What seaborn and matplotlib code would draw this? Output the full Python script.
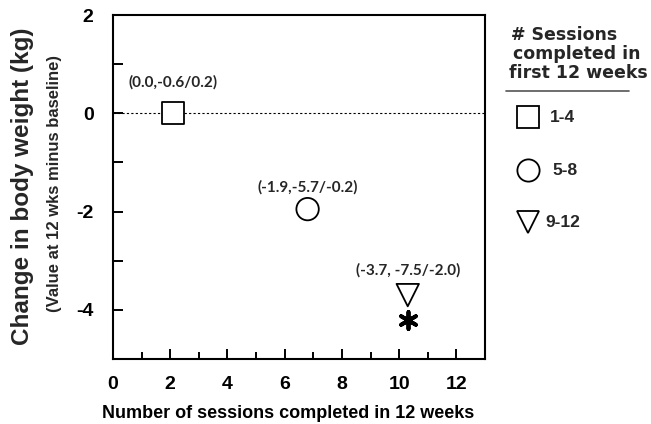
import matplotlib
matplotlib.use("Agg")
import matplotlib.pyplot as plt
import seaborn as sns
import pandas as pd
from matplotlib.lines import Line2D
from matplotlib.ticker import MultipleLocator

groups = ["1-4", "5-8", "9-12"]
x_vals = [2.1, 6.8, 10.3]
y_vals = [0.0, -1.95, -3.7]
point_labels = ["(0.0,-0.6/0.2)", "(-1.9,-5.7/-0.2)", "(-3.7, -7.5/-2.0)"]
star_x = [10.3]
star_y = [-4.2]
x_ticks = [0, 2, 4, 6, 8, 10, 12]
y_ticks = [2, 0, -2, -4]

df = pd.DataFrame({"x": x_vals, "y": y_vals, "group": groups})

sns.set_theme(style="white")
plt.rcParams["font.family"] = ["Liberation Sans", "DejaVu Sans"]
plt.rcParams["axes.unicode_minus"] = False

fig = plt.figure(figsize=(6.51, 4.24), dpi=100)
ax = fig.add_axes([0.1736, 0.1533, 0.745 - 0.1736, 0.9646 - 0.1533])

markers = {"1-4": "s", "5-8": "o", "9-12": "v"}
sns.scatterplot(data=df, x="x", y="y", style="group", markers=markers,
                s=260, facecolor="white", edgecolor="black", linewidth=1.3,
                ax=ax, legend=False, zorder=3)
sns.scatterplot(x=star_x, y=star_y, marker=(6, 2, 0), s=150, color="black",
                linewidth=2.8, ax=ax, legend=False, zorder=3)

ax.axhline(0, color="black", linestyle=(0, (2, 2)), linewidth=0.8, zorder=1)

offsets = [0.62, 0.45, 0.5]
for x, y, t, o in zip(x_vals, y_vals, point_labels, offsets):
    ax.text(x, y + o, t, ha="center", va="center", fontsize=11,
            fontweight="bold", family=["Lato", "DejaVu Sans"])

ax.set_xlim(0, 13)
ax.set_ylim(-5, 2)
ax.set_xticks(x_ticks)
ax.set_yticks(y_ticks)
ax.xaxis.set_minor_locator(MultipleLocator(1))
ax.yaxis.set_minor_locator(MultipleLocator(1))
ax.tick_params(axis="both", which="both", bottom=True, left=True, top=False, right=False)
ax.tick_params(axis="x", which="major", direction="in", length=7, width=1.4,
               labelsize=14, pad=12, color="black", labelcolor="black")
ax.tick_params(axis="y", which="major", direction="in", length=7, width=1.4,
               labelsize=14, pad=14, color="black", labelcolor="black")
ax.tick_params(axis="x", which="minor", direction="in", length=5, width=1.4, color="black")
ax.tick_params(axis="y", which="minor", direction="in", length=7, width=1.4, color="black")
for lab in ax.get_xticklabels() + ax.get_yticklabels():
    lab.set_fontweight("bold")
for sp in ax.spines.values():
    sp.set_linewidth(1.5)
    sp.set_color("black")

ax.set_xlabel("Number of sessions completed in 12 weeks", fontsize=13,
              fontweight="bold", labelpad=10, color="black")
ax.xaxis.set_label_coords(0.47, -0.135)
ax.set_ylabel("")
fig.text(0.034, 0.56, "Change in body weight (kg)", rotation=90, ha="center",
         va="center", fontsize=17.5, fontweight="bold")
fig.text(0.084, 0.567, "(Value at 12 wks minus baseline)", rotation=90, ha="center",
         va="center", fontsize=12, fontweight="bold")

# legend
title_lines = ["# Sessions", "completed in", "first 12 weeks"]
title_y = [0.917, 0.873, 0.829]
title_x = [0.866, 0.886, 0.888]
for t, tx, ty in zip(title_lines, title_x, title_y):
    fig.text(tx, ty, t, ha="center", va="center", fontsize=12.5, fontweight="bold",
             family=["DejaVu Sans"])
fig.add_artist(Line2D([0.777, 0.966], [0.786, 0.786], transform=fig.transFigure,
                      color="#555555", linewidth=1.2))
leg_y = [0.724, 0.599, 0.476]
leg_x = [0.811, 0.811, 0.811]
txt_x = [0.845, 0.849, 0.838]
for g, lx, ly, tx in zip(groups, leg_x, leg_y, txt_x):
    fig.add_artist(Line2D([lx], [ly], transform=fig.transFigure, marker=markers[g],
                          markersize=16, markerfacecolor="white",
                          markeredgecolor="black", markeredgewidth=1.3, linestyle="none"))
    fig.text(tx, ly, g, ha="left", va="center", fontsize=12.5, fontweight="bold")

fig.savefig("out.png", dpi=100)
